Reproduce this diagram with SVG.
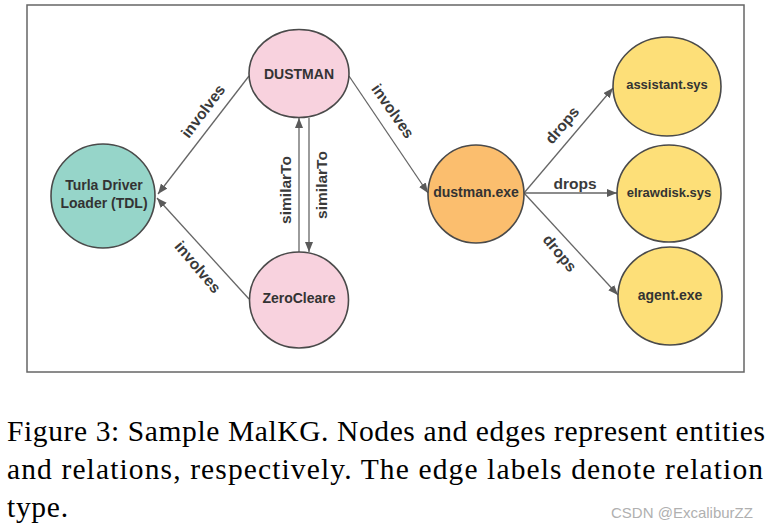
<svg xmlns="http://www.w3.org/2000/svg" width="771" height="529" viewBox="0 0 771 529">
<defs>
<marker id="arr" viewBox="0 0 10 8" refX="10" refY="4" markerWidth="10" markerHeight="8" markerUnits="userSpaceOnUse" orient="auto">
<path d="M0,0 L10,4 L0,8 Z" fill="#5a5a5a"/>
</marker>
<style>
.n{stroke:#4a4a4a;stroke-width:1.6}
.pink{fill:#f8d2de}
.teal{fill:#96d5c9}
.orange{fill:#fbbe6e}
.yellow{fill:#fddf78}
.nt{font-family:"Liberation Sans",Arial,sans-serif;font-weight:bold;font-size:14px;fill:#333;text-anchor:middle}
.e{stroke:#666;stroke-width:1.3;fill:none;marker-end:url(#arr)}
.el{font-family:"Liberation Sans",Arial,sans-serif;font-weight:bold;font-size:15.5px;fill:#3a3a3a;text-anchor:middle;dominant-baseline:central}
.cap{font-family:"Liberation Serif","Times New Roman",serif;font-size:29.5px;fill:#000}
</style>
</defs>
<rect x="0" y="0" width="771" height="529" fill="#fff"/>
<rect x="27" y="5" width="717" height="367" fill="#fff" stroke="#666" stroke-width="1.5"/>

<g id="connectors">
<line class="e" x1="249" y1="76" x2="158" y2="194"/>
<line class="e" x1="249" y1="299" x2="157" y2="198"/>
<line class="e" x1="299" y1="252" x2="299" y2="118"/>
<line class="e" x1="309" y1="118" x2="309" y2="252"/>
<line class="e" x1="349" y1="76" x2="428" y2="193"/>
<line class="e" x1="524" y1="193" x2="613" y2="88"/>
<line class="e" x1="524" y1="193" x2="617" y2="193"/>
<line class="e" x1="524" y1="193" x2="618" y2="295"/>
<text class="el" transform="translate(203,111) rotate(-53)">involves</text>
<text class="el" transform="translate(198,267) rotate(50)">involves</text>
<text class="el" transform="translate(285,190) rotate(-90)">similarTo</text>
<text class="el" transform="translate(321,185) rotate(-90)">similarTo</text>
<text class="el" transform="translate(393,111) rotate(55)">involves</text>
<text class="el" transform="translate(562,125) rotate(-50)">drops</text>
<text class="el" x="575" y="183">drops</text>
<text class="el" transform="translate(560,253) rotate(50)">drops</text>
</g>

<g id="dustman">
<ellipse class="n pink" cx="299" cy="73.5" rx="50" ry="44"/>
<text class="nt" x="299" y="78.5">DUSTMAN</text>
</g>
<g id="tdl">
<ellipse class="n teal" cx="103" cy="196" rx="52" ry="52"/>
<text class="nt" x="104" y="190">Turla Driver</text>
<text class="nt" x="104" y="208">Loader (TDL)</text>
</g>
<g id="zerocleare">
<ellipse class="n pink" cx="299" cy="300" rx="49.5" ry="48"/>
<text class="nt" x="299" y="303">ZeroCleare</text>
</g>
<g id="dustman-exe">
<ellipse class="n orange" cx="476" cy="194" rx="48" ry="49"/>
<text class="nt" x="476" y="197">dustman.exe</text>
</g>
<g id="assistant">
<ellipse class="n yellow" cx="667" cy="86.5" rx="54" ry="49.5"/>
<text class="nt" x="667" y="89" style="font-size:13px">assistant.sys</text>
</g>
<g id="elrawdisk">
<ellipse class="n yellow" cx="669" cy="193.5" rx="52" ry="48.5"/>
<text class="nt" x="669" y="197" style="font-size:13px">elrawdisk.sys</text>
</g>
<g id="agent">
<ellipse class="n yellow" cx="670" cy="296" rx="52" ry="49"/>
<text class="nt" x="670" y="300">agent.exe</text>
</g>

<text class="cap" x="7" y="441" textLength="758">Figure 3: Sample MalKG. Nodes and edges represent entities</text>
<text class="cap" x="7" y="479" textLength="756">and relations, respectively. The edge labels denote relation</text>
<text class="cap" x="7" y="517" textLength="61">type.</text>
<text x="611" y="518" style="font-family:'Liberation Sans',Arial,sans-serif;font-size:15px;fill:#b0b0b0">CSDN @ExcaliburZZ</text>
</svg>
